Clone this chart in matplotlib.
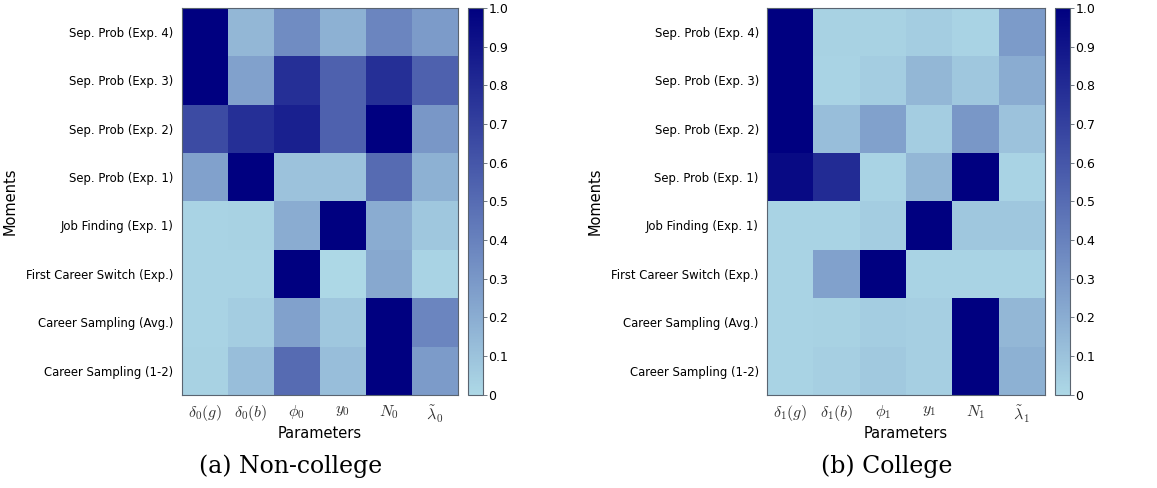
import numpy as np
import matplotlib
matplotlib.use("Agg")
import matplotlib.pyplot as plt
from matplotlib.colors import LinearSegmentedColormap

plt.rcParams['mathtext.fontset'] = 'cm'

moments = ["Sep. Prob (Exp. 4)", "Sep. Prob (Exp. 3)", "Sep. Prob (Exp. 2)",
           "Sep. Prob (Exp. 1)", "Job Finding (Exp. 1)", "First Career Switch (Exp.)",
           "Career Sampling (Avg.)", "Career Sampling (1-2)"]
params_nc = [r"$\delta_0(g)$", r"$\delta_0(b)$", r"$\phi_0$", r"$y_0$", r"$N_0$", r"$\tilde{\lambda}_0$"]
params_c = [r"$\delta_1(g)$", r"$\delta_1(b)$", r"$\phi_1$", r"$y_1$", r"$N_1$", r"$\tilde{\lambda}_1$"]

noncollege = [
    [1.00, 0.15, 0.35, 0.18, 0.38, 0.28],
    [1.00, 0.25, 0.78, 0.55, 0.78, 0.55],
    [0.65, 0.78, 0.85, 0.55, 1.00, 0.30],
    [0.25, 1.00, 0.10, 0.10, 0.50, 0.18],
    [0.02, 0.03, 0.20, 1.00, 0.20, 0.08],
    [0.02, 0.02, 1.00, 0.00, 0.22, 0.02],
    [0.02, 0.05, 0.25, 0.08, 1.00, 0.38],
    [0.03, 0.12, 0.50, 0.12, 1.00, 0.28],
]
college = [
    [1.00, 0.03, 0.03, 0.05, 0.02, 0.28],
    [1.00, 0.02, 0.05, 0.15, 0.08, 0.20],
    [1.00, 0.12, 0.25, 0.05, 0.30, 0.10],
    [0.95, 0.80, 0.02, 0.15, 1.00, 0.02],
    [0.02, 0.02, 0.05, 1.00, 0.08, 0.08],
    [0.02, 0.25, 1.00, 0.02, 0.02, 0.02],
    [0.02, 0.03, 0.05, 0.04, 1.00, 0.15],
    [0.02, 0.04, 0.07, 0.04, 1.00, 0.18],
]
captions = ["(a) Non-college", "(b) College"]
cbar_ticks = [0, 0.1, 0.2, 0.3, 0.4, 0.5, 0.6, 0.7, 0.8, 0.9, 1.0]
cbar_labels = ["0", "0.1", "0.2", "0.3", "0.4", "0.5", "0.6", "0.7", "0.8", "0.9", "1.0"]

cmap = LinearSegmentedColormap.from_list("lb_db", ["#add8e6", "#000080"])

fig = plt.figure(figsize=(11.57, 4.88), dpi=100)

layouts = [
    (0.157, 0.2385, 0.4045, 0.251),
    (0.663, 0.2400, 0.9115, 0.766),
]
bottom, height = 0.191, 0.793
edge = "#5a6470"

for (left, width, cleft, capx), data, params, cap in zip(layouts, [noncollege, college], [params_nc, params_c], captions):
    ax = fig.add_axes([left, bottom, width, height])
    im = ax.imshow(np.array(data), cmap=cmap, vmin=0, vmax=1, aspect='auto', interpolation='nearest')
    ax.set_xticks(range(len(params)))
    ax.set_xticklabels(params, fontsize=11.5, color="#333333")
    ax.set_yticks(range(len(moments)))
    ax.set_yticklabels(moments, fontsize=8.4)
    ax.tick_params(length=0, pad=6)
    ax.set_xlabel("Parameters", fontsize=10.5, labelpad=1)
    ax.set_ylabel("Moments", fontsize=10.5, labelpad=6)
    for s in ax.spines.values():
        s.set_color(edge)
        s.set_linewidth(0.8)
    cax = fig.add_axes([cleft, bottom, 0.013, height])
    cb = fig.colorbar(im, cax=cax)
    cb.set_ticks(cbar_ticks)
    cb.set_ticklabels(cbar_labels)
    cb.ax.tick_params(labelsize=9, length=3, width=0.6, color=edge, pad=1)
    cb.outline.set_edgecolor(edge)
    cb.outline.set_linewidth(0.8)
    fig.text(capx, 0.045, cap, ha='center', va='center',
             fontsize=17, family='DejaVu Serif')

fig.savefig("out.png", dpi=100)
